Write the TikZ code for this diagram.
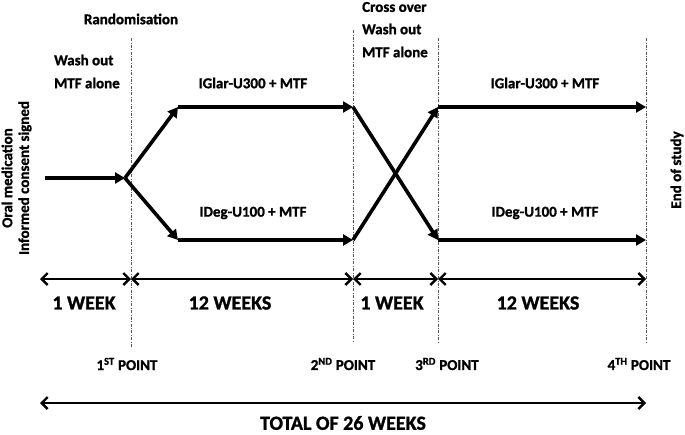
\documentclass[tikz,border=0pt]{standalone}
\usepackage{fontspec}
\setmainfont{Carlito}[BoldFeatures={FakeBold=1.2}]
\usetikzlibrary{arrows.meta}

\tikzset{
  arm/.style={line width=3.6pt,-{Triangle[length=10pt,width=11pt]}},
  span/.style={line width=2.4pt,{Straight Barb[length=6pt,width=12pt]}-{Straight Barb[length=6pt,width=12pt]}},
  visit/.style={gray!70!black,line width=0.7pt,dash pattern=on 3pt off 1.5pt on 0.8pt off 1.5pt},
  lbl/.style={font=\bfseries\fontsize{15}{18}\selectfont,inner sep=0pt},
  big/.style={font=\bfseries\fontsize{20}{24}\selectfont,inner sep=0pt}
}

\begin{document}
\begin{tikzpicture}[x=1pt,y=-1pt]
    \useasboundingbox (0,0) rectangle (685,434);

    % visit lines
    \draw[visit] (131,38) coordinate (v1) -- (131,348);
    \draw[visit] (353,30) coordinate (v2) -- (353,342);
    \draw[visit] (438,38) coordinate (v3) -- (438,342);
    \draw[visit] (646,38) coordinate (v4) -- (646,342);

    % treatment arms
    \coordinate (start) at (45,178);
    \coordinate (split) at (125,178);
    \coordinate (upA) at (178,107);
    \coordinate (lowA) at (178,240);
    \coordinate (upB) at (353,107);
    \coordinate (lowB) at (353,240);
    \coordinate (upC) at (438,107);
    \coordinate (lowC) at (438,240);
    \coordinate (upD) at (646,107);
    \coordinate (lowD) at (646,240);

    \draw[arm] (start) -- (split);
    \draw[arm] (split) -- (upA);
    \draw[arm] (split) -- (lowA);
    \draw[arm] (upA) -- (upB);
    \draw[arm] (lowA) -- (lowB);
    \draw[arm] (upB) -- (lowC);
    \draw[arm] (lowB) -- (upC);
    \draw[arm] (upC) -- (upD);
    \draw[arm] (lowC) -- (lowD);

    \node[lbl] (glar1) at (253,83) {IGlar-U300 + MTF};
    \node[lbl] (deg1) at (253,213) {IDeg-U100 + MTF};
    \node[lbl] (glar2) at (545,83) {IGlar-U300 + MTF};
    \node[lbl] (deg2) at (545,213) {IDeg-U100 + MTF};

    % phases on top
    \node[lbl] (rand) at (131,19) {Randomisation};
    \node[lbl,anchor=west] (wash1) at (54,60) {Wash out};
    \node[lbl,anchor=west] (mtf1) at (54,83) {MTF alone};
    \node[lbl,anchor=west] (cross) at (362,7) {Cross over};
    \node[lbl,anchor=west] (wash2) at (362,29) {Wash out};
    \node[lbl,anchor=west] (mtf2) at (362,52) {MTF alone};

    \node[lbl,rotate=90] (oral) at (7,178) {Oral medication};
    \node[lbl,rotate=90] (consent) at (25,178) {Informed consent signed};
    \node[lbl,rotate=90] (eos) at (677,170) {End of study};

    % durations
    \coordinate (t0) at (40,279);
    \coordinate (t1) at (131,279);
    \coordinate (t2) at (353,279);
    \coordinate (t3) at (438,279);
    \coordinate (t4) at (646,279);
    \draw[span] (t0) -- (t1);
    \draw[span] (t1) -- (t2);
    \draw[span] (t2) -- (t3);
    \draw[span] (t3) -- (t4);

    \node[big] (w1) at (84,303) {1 WEEK};
    \node[big] (w12a) at (230,303) {12 WEEKS};
    \node[big] (w1b) at (392,303) {1 WEEK};
    \node[big] (w12b) at (538,303) {12 WEEKS};

    \node[lbl] (p1) at (127,364) {1\textsuperscript{ST} POINT};
    \node[lbl] (p2) at (343,364) {2\textsuperscript{ND} POINT};
    \node[lbl] (p3) at (447,364) {3\textsuperscript{RD} POINT};
    \node[lbl] (p4) at (639,364) {4\textsuperscript{TH} POINT};

    % total
    \coordinate (tot0) at (40,403);
    \coordinate (tot1) at (646,403);
    \draw[span] (tot0) -- (tot1);
    \node[big] (total) at (343,423) {TOTAL OF 26 WEEKS};
\end{tikzpicture}
\end{document}
